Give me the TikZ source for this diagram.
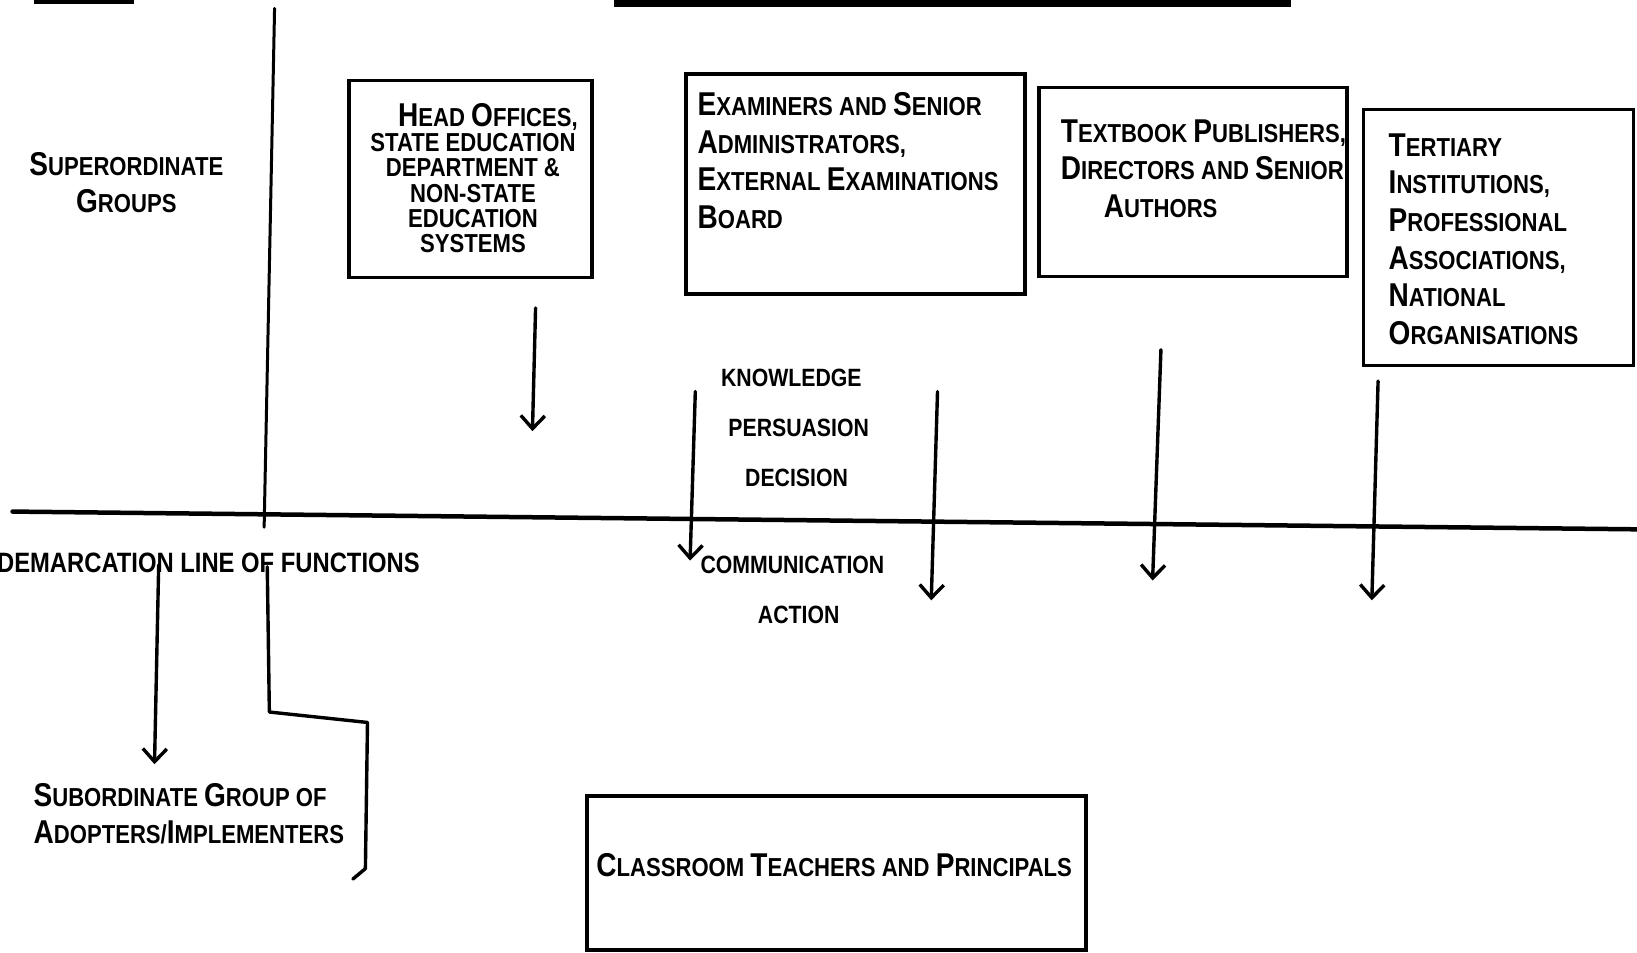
\documentclass[tikz,border=0pt]{standalone}
\usepackage{fontspec}
\usetikzlibrary{arrows.meta}
\newfontfamily\letterfont[FakeStretch=0.85]{Liberation Sans}

\tikzstyle{box}=[draw,line width=3.6pt,inner sep=0pt]
\tikzstyle{grouptext}=[inner sep=0pt,font=\letterfont\bfseries\fontsize{26}{37.6}\selectfont]
\tikzstyle{stage}=[inner sep=0pt,font=\letterfont\bfseries\fontsize{25}{30}\selectfont]
\tikzstyle{downarrow}=[draw,line width=3.4pt,line cap=round,-{Straight Barb[length=13pt,width=24pt]}]
\tikzstyle{rule}=[draw,line cap=round]
\newcommand{\Ini}[1]{{\fontsize{33}{33}\selectfont #1}}

\begin{document}
\begin{tikzpicture}[x=1.044pt,y=-1.044pt]
    \useasboundingbox (0,0) rectangle (1568,912);
    % remains of the heading at the top edge
    \fill (33,0) rectangle (128,4);
    \fill (588,0) rectangle (1237,7);
    % The two dividing lines
    \coordinate (vtop) at (263,8);
    \coordinate (vbot) at (253,505);
    \coordinate (dleft) at (12,490);
    \coordinate (dright) at (1568,507);
    \path[rule,line width=3pt] (vtop) -- (vbot);
    \path[rule,line width=4.5pt] (dleft) -- (dright);
    % Superordinate groups
    \node[box,minimum width=243pt,minimum height=197pt] (head) at (450.5,171.5) {};
    \node[box,minimum width=339pt,minimum height=220pt] (exam) at (819.5,176.5) {};
    \node[box,minimum width=308pt,minimum height=189pt] (publ) at (1142.5,174.5) {};
    \node[box,minimum width=270pt,minimum height=256pt] (tert) at (1435.5,227.5) {};
    \node[grouptext,align=center,font=\letterfont\bfseries\fontsize{26}{25.3}\selectfont] (headtext) at (453,170.5)
        {\hspace*{30pt}\Ini{H}EAD \Ini{O}FFICES,\\STATE EDUCATION\\DEPARTMENT \&\\NON-STATE\\EDUCATION\\SYSTEMS};
    \node[grouptext,align=left,anchor=west] (examtext) at (668,154)
        {\Ini{E}XAMINERS AND \Ini{S}ENIOR\\\Ini{A}DMINISTRATORS,\\\Ini{E}XTERNAL \Ini{E}XAMINATIONS\\\Ini{B}OARD};
    \node[grouptext,align=left,anchor=west] (publtext) at (1016,161.5)
        {\Ini{T}EXTBOOK \Ini{P}UBLISHERS,\\\Ini{D}IRECTORS AND \Ini{S}ENIOR\\\hspace*{43pt}\Ini{A}UTHORS};
    \node[grouptext,align=left,anchor=west] (terttext) at (1330,229)
        {\Ini{T}ERTIARY\\\Ini{I}NSTITUTIONS,\\\Ini{P}ROFESSIONAL\\\Ini{A}SSOCIATIONS,\\\Ini{N}ATIONAL\\\Ini{O}RGANISATIONS};
    % Subordinate group
    \node[box,minimum width=499pt,minimum height=154pt] (class) at (801,836) {};
    \node[grouptext] (classtext) at (799,829) {\Ini{C}LASSROOM \Ini{T}EACHERS AND \Ini{P}RINCIPALS};
    % Side labels
    \node[grouptext,align=center,font=\letterfont\bfseries\fontsize{26}{36.5}\selectfont] (super) at (121,175)
        {\Ini{S}UPERORDINATE\\\Ini{G}ROUPS};
    \node[grouptext,align=left,anchor=west,font=\letterfont\bfseries\fontsize{26}{36.5}\selectfont] (sub) at (32,779.5)
        {\Ini{S}UBORDINATE \Ini{G}ROUP OF\\\Ini{A}DOPTERS/\Ini{I}MPLEMENTERS};
    \node[grouptext,anchor=west,font=\letterfont\bfseries\fontsize{28}{30}\selectfont] (demarc) at (-3,539)
        {DEMARCATION LINE OF FUNCTIONS};
    % Stages of the process
    \foreach \pos/\name/\word in {{(758,362)/know/KNOWLEDGE}, {(765,410)/pers/PERSUASION},
        {(763,458)/deci/DECISION}, {(759,541)/comm/COMMUNICATION}, {(765,589)/acti/ACTION}}
        {\node[stage] (\name) at \pos {\word};}
    % Arrows down through the line
    \coordinate (a1s) at (513,295);   \coordinate (a1e) at (510,413);
    \coordinate (a2s) at (666,375);   \coordinate (a2e) at (661,537);
    \coordinate (a3s) at (898,375);   \coordinate (a3e) at (892,575);
    \coordinate (a4s) at (1112,335);  \coordinate (a4e) at (1104,556);
    \coordinate (a5s) at (1320,365);  \coordinate (a5e) at (1314,575);
    \coordinate (a6s) at (152,541);   \coordinate (a6e) at (148,732);
    \foreach \start/\finish in {a1s/a1e, a2s/a2e, a3s/a3e, a4s/a4e, a5s/a5e, a6s/a6e}
        {\path[downarrow] (\start) -- (\finish);}
    % Bracket round the subordinate group
    \coordinate (b1) at (256,543);
    \coordinate (b2) at (258,682);
    \coordinate (b3) at (352,692);
    \coordinate (b4) at (350,832);
    \coordinate (b5) at (338,842);
    \path[rule,line width=3.4pt,line join=round] (b1) -- (b2) -- (b3) -- (b4) -- (b5);
\end{tikzpicture}
\end{document}
